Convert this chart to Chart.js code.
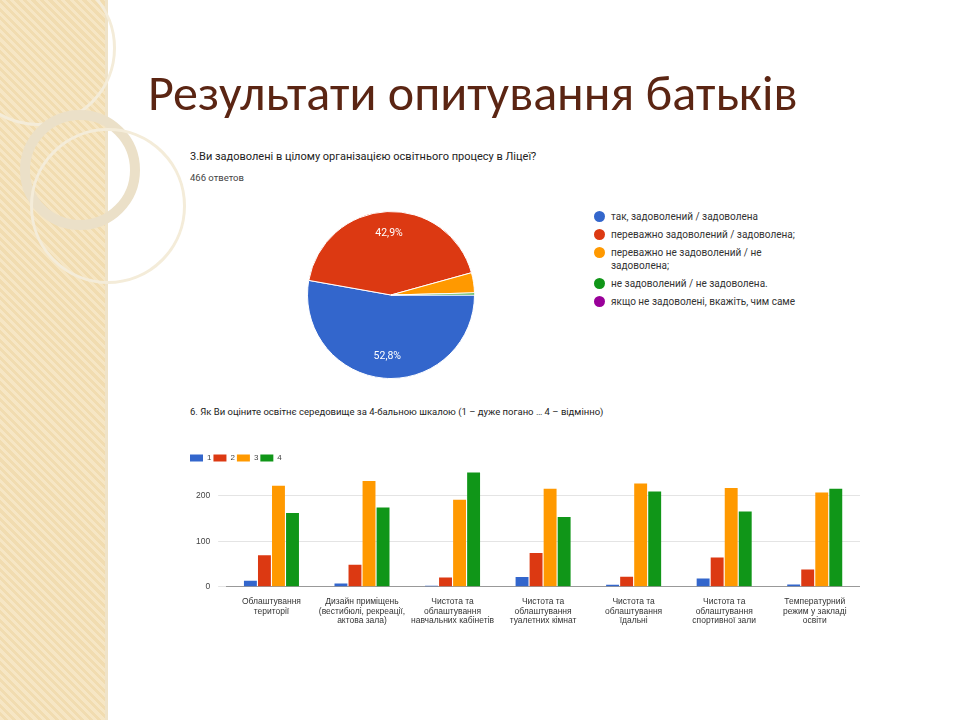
<!DOCTYPE html>
<html>
<head>
<meta charset="utf-8">
<script src="https://cdn.jsdelivr.net/npm/chart.js@4"></script>
<style>
  body { margin:0; width:960px; height:720px; overflow:hidden; background:#fff; font-family:Roboto, Arial, sans-serif; position:relative; }
  .strip { position:absolute; left:0; top:0; width:105px; height:720px;
    background: repeating-linear-gradient(45deg, #f6e6c4 0 3px, #f1dcb0 3px 6px); }
  .edge { position:absolute; left:105px; top:0; width:3px; height:720px; background:#efe3c8; }
  .ring { position:absolute; border-radius:50%; border:solid #f4ecd9; }
  h1 { position:absolute; left:148px; top:62px; margin:0; font-family:Calibri, "Liberation Sans", Arial, sans-serif; font-weight:normal; font-size:50px; color:#5b2513; }
  .q { position:absolute; left:190px; font-size:11px; color:#222; }
  .sub { position:absolute; left:190px; top:172px; font-size:9.5px; color:#444; }
  #legend { position:absolute; left:594px; top:210px; font-size:10px; color:#333; width:205px; }
  #legend div { display:flex; margin-bottom:5px; line-height:13px; }
  #legend span.dot { width:11px; height:11px; border-radius:50%; margin-right:6px; flex:none; margin-top:1px; }
  #pieWrap { position:absolute; left:307px; top:211px; width:168px; height:168px; }
  #barWrap { position:absolute; left:188px; top:452px; width:672px; height:176px; }
</style>
</head>
<body>
<div class="strip"></div>
<div class="edge"></div>
<div class="ring" style="left:-40px;top:-30px;width:150px;height:150px;border-width:3px;"></div>
<div class="ring" style="left:20px;top:110px;width:100px;height:100px;border-width:10px;border-color:#ebe0c8;"></div>
<div class="ring" style="left:30px;top:128px;width:150px;height:150px;border-width:3px;"></div>
<h1>Результати опитування батьків</h1>
<div class="q" style="top:150px;">3.Ви задоволені в цілому організацією освітнього процесу в Ліцеї?</div>
<div class="sub">466 ответов</div>
<div id="pieWrap"><canvas id="pie"></canvas></div>
<div id="legend"></div>
<div class="q" style="top:406px;font-size:9.5px;">6. Як Ви оціните освітнє середовище за 4-бальною шкалою (1 – дуже погано … 4 – відмінно)</div>
<div id="barWrap"><canvas id="bar"></canvas></div>
<script>
// pie data (percent)
const pieLabels = ['так, задоволений / задоволена', 'переважно задоволений / задоволена;', 'переважно не задоволений / не задоволена;', 'не задоволений / не задоволена.', 'якщо не задоволені, вкажіть, чим саме'];
const pieValues = [52.8, 42.9, 3.9, 0.4, 0];
const pieColors = ['#3366cc', '#dc3912', '#ff9900', '#109618', '#990099'];

// bar data
const barCategories = [
  ['Облаштування', 'території'],
  ['Дизайн приміщень', '(вестибюлі, рекреації,', 'актова зала)'],
  ['Чистота та', 'облаштування', 'навчальних кабінетів'],
  ['Чистота та', 'облаштування', 'туалетних кімнат'],
  ['Чистота та', 'облаштування', 'їдальні'],
  ['Чистота та', 'облаштування', 'спортивної зали'],
  ['Температурний', 'режим у закладі', 'освіти']
];
const score1 = [13, 7, 2, 21, 4, 18, 5];
const score2 = [69, 48, 20, 74, 22, 64, 38];
const score3 = [222, 232, 191, 215, 227, 217, 207];
const score4 = [162, 174, 251, 153, 209, 165, 215];
const yTicks = [0, 100, 200];

const legend = document.getElementById('legend');
pieLabels.forEach((l, i) => {
  const row = document.createElement('div');
  row.innerHTML = '<span class="dot" style="background:' + pieColors[i] + '"></span><span>' + l + '</span>';
  legend.appendChild(row);
});

const pctLabels = {
  id: 'pctLabels',
  afterDatasetsDraw(chart) {
    const ctx = chart.ctx;
    const meta = chart.getDatasetMeta(0);
    ctx.save();
    ctx.fillStyle = '#fff';
    ctx.font = '10.5px Roboto, Arial';
    ctx.textAlign = 'center';
    ctx.textBaseline = 'middle';
    meta.data.forEach((arc, i) => {
      if (pieValues[i] < 5) return;
      const p = arc.tooltipPosition();
      ctx.fillText(pieValues[i].toFixed(1).replace('.', ',') + '%', p.x, p.y + (i === 0 ? 20 : -20));
    });
    ctx.restore();
  }
};

new Chart(document.getElementById('pie'), {
  type: 'pie',
  data: { labels: pieLabels, datasets: [{ data: pieValues, backgroundColor: pieColors, borderColor: '#fff', borderWidth: 1 }] },
  options: {
    responsive: true, maintainAspectRatio: false, animation: false, rotation: 90,
    layout: { padding: 0 },
    plugins: { legend: { display: false }, tooltip: { enabled: false } }
  },
  plugins: [pctLabels]
});

const mk = (label, data, color) => ({ label, data, backgroundColor: color, categoryPercentage: 0.62, barPercentage: 0.92 });

new Chart(document.getElementById('bar'), {
  type: 'bar',
  data: {
    labels: barCategories,
    datasets: [mk('1', score1, '#3366cc'), mk('2', score2, '#dc3912'), mk('3', score3, '#ff9900'), mk('4', score4, '#109618')]
  },
  options: {
    responsive: true, maintainAspectRatio: false, animation: false,
    plugins: {
      legend: { align: 'start', labels: { boxWidth: 13, boxHeight: 7, font: { size: 8 }, color: '#444', padding: 2 } },
      tooltip: { enabled: false }
    },
    scales: {
      x: { grid: { display: false }, border: { color: '#999' }, ticks: { font: { size: 8.5, lineHeight: 1.15 }, color: '#333', maxRotation: 0, autoSkip: false, padding: 2 } },
      y: {
        min: 0, max: 252,
        afterBuildTicks: (s) => { s.ticks = yTicks.map(v => ({ value: v })); },
        grid: { color: '#e4e4e4' }, border: { display: false },
        ticks: { font: { size: 8.5 }, color: '#444', padding: 8 }
      }
    }
  }
});
</script>
</body>
</html>
